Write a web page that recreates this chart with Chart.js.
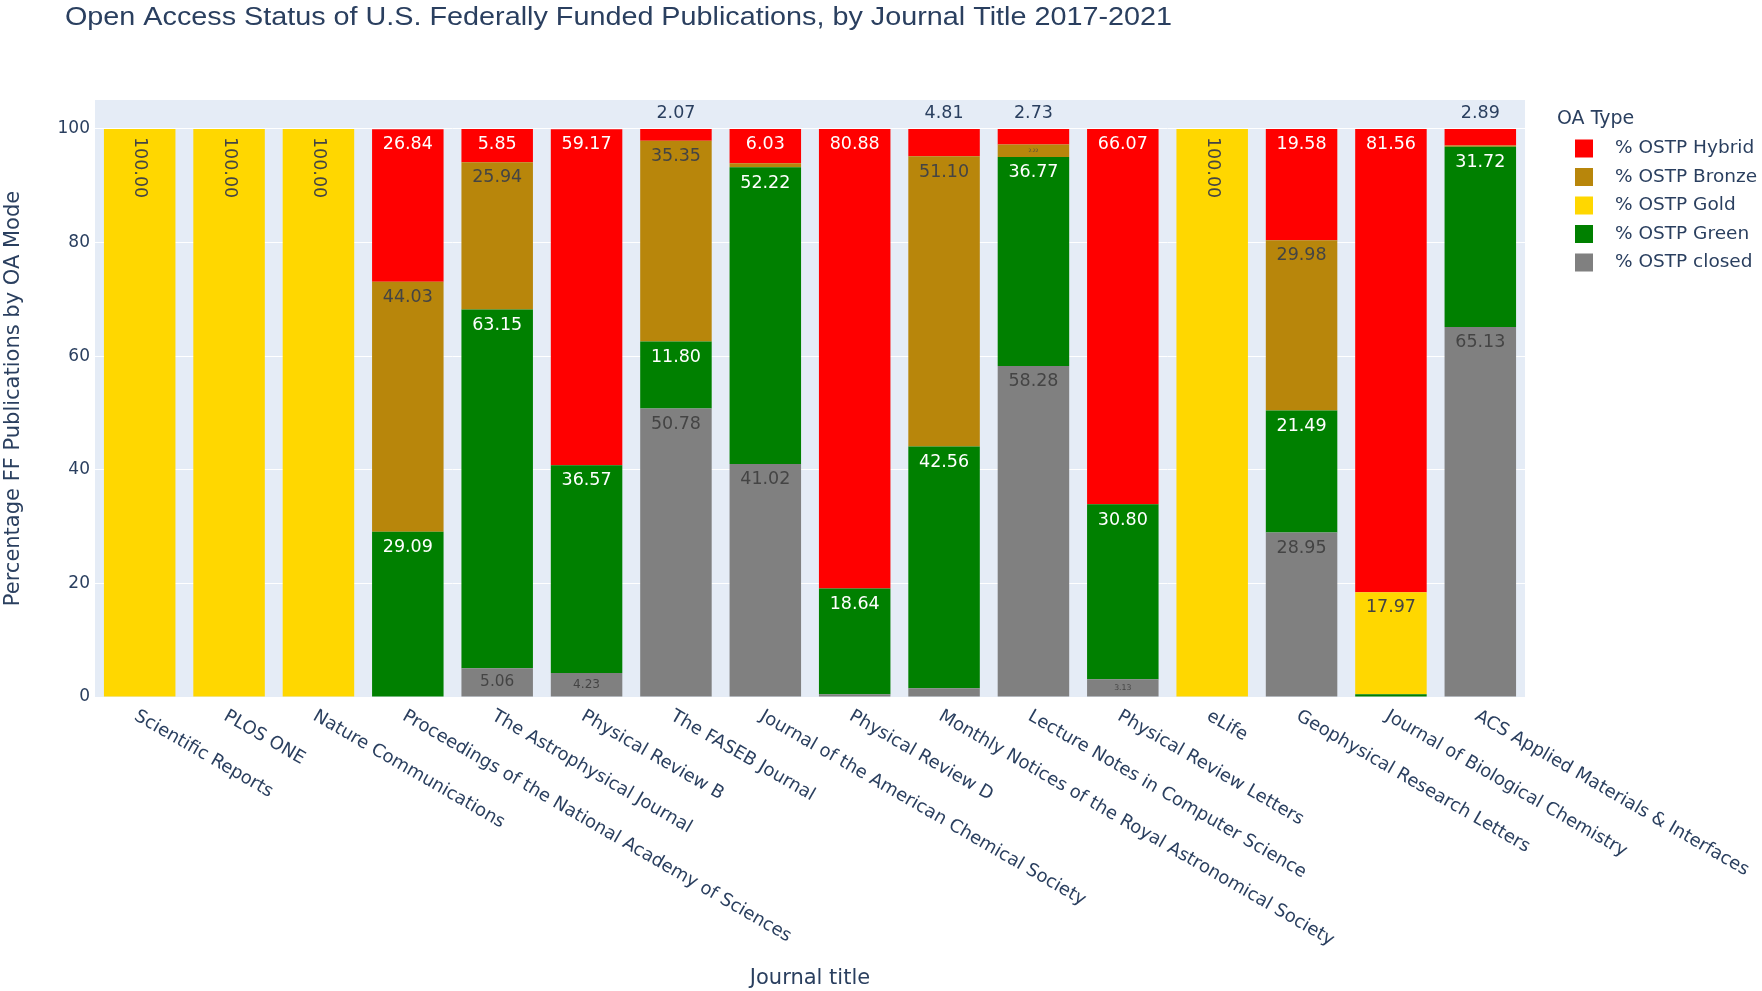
<!DOCTYPE html>
<html>
<head>
    <title>Open Access Status by Journal Title</title>
    <script src="https://cdn.jsdelivr.net/npm/chart.js"></script>
    <style>
        html, body { margin: 0; padding: 0; background: #fff; }
    </style>
</head>
<body>
    <canvas id="oaChart" width="1762" height="991"></canvas>

    <script>
        // journals, left to right
        var journals = ['Scientific Reports', 'PLOS ONE', 'Nature Communications',
            'Proceedings of the National Academy of Sciences', 'The Astrophysical Journal',
            'Physical Review B', 'The FASEB Journal', 'Journal of the American Chemical Society',
            'Physical Review D', 'Monthly Notices of the Royal Astronomical Society',
            'Lecture Notes in Computer Science', 'Physical Review Letters', 'eLife',
            'Geophysical Research Letters', 'Journal of Biological Chemistry',
            'ACS Applied Materials & Interfaces'];

        // percentages per OA mode (stacked bottom to top)
        var closedPct = [0, 0, 0, 0, 5.06, 4.23, 50.78, 41.02, 0.48, 1.53, 58.28, 3.13, 0, 28.95, 0, 65.13];
        var greenPct  = [0, 0, 0, 29.09, 63.15, 36.57, 11.80, 52.22, 18.64, 42.56, 36.77, 30.80, 0, 21.49, 0.47, 31.72];
        var goldPct   = [100, 100, 100, 0, 0, 0, 0, 0, 0, 0, 0, 0, 100, 0, 17.97, 0];
        var bronzePct = [0, 0, 0, 44.03, 25.94, 0, 35.35, 0.73, 0, 51.10, 2.22, 0, 0, 29.98, 0, 0.26];
        var hybridPct = [0, 0, 0, 26.84, 5.85, 59.17, 2.07, 6.03, 80.88, 4.81, 2.73, 66.07, 0, 19.58, 81.56, 2.89];

        var yTicks = [0, 20, 40, 60, 80, 100];

        var textColor = '#2a3f5f';
        var fontFam = 'DejaVu Sans';
        Chart.defaults.font.family = fontFam;

        function isDark(hex) {
            var r = parseInt(hex.substr(1, 2), 16), g = parseInt(hex.substr(3, 2), 16), b = parseInt(hex.substr(5, 2), 16);
            return (r * 299 + g * 587 + b * 114) / 1000 < 128;
        }

        var plotBg = {
            id: 'plotBg',
            beforeDraw: function (chart) {
                var a = chart.chartArea, ctx = chart.ctx;
                ctx.save();
                ctx.fillStyle = '#E5ECF6';
                ctx.fillRect(a.left, a.top, a.right - a.left, a.bottom - a.top);
                ctx.restore();
            }
        };

        // value labels, plotly "auto" style
        var barLabels = {
            id: 'barLabels',
            afterDatasetsDraw: function (chart) {
                var ctx = chart.ctx;
                var sets = chart.data.datasets;
                var fs = 17.5;
                ctx.save();
                for (var di = 0; di < sets.length; di++) {
                    var meta = chart.getDatasetMeta(di);
                    meta.data.forEach(function (bar, i) {
                        var v = sets[di].data[i];
                        if (!v) return;
                        var topIdx = -1;
                        for (var k = 0; k < sets.length; k++) if (sets[k].data[i]) topIdx = k;
                        var p = bar.getProps(['x', 'y', 'base', 'width'], true);
                        var top = Math.min(p.y, p.base), h = Math.abs(p.base - p.y);
                        var txt = v.toFixed(2);
                        ctx.font = fs + 'px ' + fontFam;
                        var tw = ctx.measureText(txt).width;
                        var th = fs * 1.45;
                        var wAv = p.width * 0.8, hAv = h - 6;
                        var inCol = isDark(sets[di].backgroundColor) ? '#ffffff' : '#444444';
                        ctx.textAlign = 'center';
                        ctx.textBaseline = 'middle';
                        if (tw <= wAv && th <= hAv) {
                            ctx.fillStyle = inCol;
                            ctx.fillText(txt, p.x, top + 3 + th / 2);
                        } else if (di === topIdx && tw <= wAv) {
                            ctx.fillStyle = textColor;
                            ctx.fillText(txt, p.x, top - 3 - th / 2);
                        } else if (tw <= hAv && th <= p.width - 6) {
                            ctx.fillStyle = inCol;
                            ctx.save();
                            ctx.translate(p.x, top + 8);
                            ctx.rotate(Math.PI / 2);
                            ctx.textAlign = 'left';
                            ctx.fillText(txt, 0, 0);
                            ctx.restore();
                        } else {
                            var sc = Math.min(wAv / tw, hAv / th);
                            if (sc < 0.15) return;
                            ctx.fillStyle = inCol;
                            ctx.font = (fs * sc) + 'px ' + fontFam;
                            ctx.fillText(txt, p.x, top + 3 + th * sc / 2);
                        }
                    });
                }
                ctx.restore();
            }
        };

        // title, rotated category labels, legend
        var extras = {
            id: 'extras',
            afterDraw: function (chart) {
                var ctx = chart.ctx;
                ctx.save();
                // title
                ctx.fillStyle = textColor;
                ctx.font = '26px "Liberation Sans"';
                ctx.textAlign = 'left';
                ctx.textBaseline = 'alphabetic';
                var title = 'Open Access Status of U.S. Federally Funded Publications, by Journal Title 2017-2021';
                var tw = ctx.measureText(title).width;
                ctx.save();
                ctx.translate(65, 25);
                ctx.scale(1107 / tw, 1);
                ctx.fillText(title, 0, 0);
                ctx.restore();

                // category labels at 30 degrees
                var xs = chart.scales.x;
                ctx.font = '18px ' + fontFam;
                ctx.textBaseline = 'middle';
                journals.forEach(function (name, i) {
                    var x = xs.getPixelForValue(i);
                    ctx.save();
                    ctx.translate(x - 4, xs.top + 18);
                    ctx.rotate(Math.PI / 6);
                    ctx.fillText(name, 0, 0);
                    ctx.restore();
                });

                // legend
                ctx.font = '19px ' + fontFam;
                ctx.fillText('OA Type', 1557, 119);
                ctx.font = '18.5px ' + fontFam;
                var items = chart.data.datasets.slice().reverse();
                items.forEach(function (ds, k) {
                    var y = 148.5 + k * 28.5;
                    ctx.fillStyle = ds.backgroundColor;
                    ctx.fillRect(1575, y - 9, 18, 18);
                    ctx.fillStyle = textColor;
                    ctx.fillText(ds.label, 1615, y);
                });
                ctx.restore();
            }
        };

        var ctx = document.getElementById('oaChart').getContext('2d');
        var chart = new Chart(ctx, {
            type: 'bar',
            data: {
                labels: journals,
                datasets: [
                    { label: '% OSTP closed', data: closedPct, backgroundColor: '#808080' },
                    { label: '% OSTP Green', data: greenPct, backgroundColor: '#008000' },
                    { label: '% OSTP Gold', data: goldPct, backgroundColor: '#FFD700' },
                    { label: '% OSTP Bronze', data: bronzePct, backgroundColor: '#B8860B' },
                    { label: '% OSTP Hybrid', data: hybridPct, backgroundColor: '#FF0000' }
                ]
            },
            options: {
                responsive: false,
                animation: false,
                devicePixelRatio: 1,
                layout: { padding: { left: 0, right: 237, top: 100, bottom: 0 } },
                datasets: { bar: { categoryPercentage: 1, barPercentage: 0.8, borderWidth: 0 } },
                plugins: { legend: { display: false }, tooltip: { enabled: false } },
                scales: {
                    x: {
                        stacked: true,
                        grid: { display: false },
                        border: { display: false },
                        ticks: { display: false },
                        title: { display: true, text: 'Journal title', color: textColor, font: { size: 21 }, padding: 0 },
                        afterFit: function (s) { s.height = 294; }
                    },
                    y: {
                        stacked: true,
                        min: 0,
                        max: 105.1,
                        border: { display: false },
                        grid: { color: '#ffffff', lineWidth: 1, drawTicks: false },
                        ticks: { padding: 5, color: textColor, font: { size: 17 } },
                        afterBuildTicks: function (s) { s.ticks = yTicks.map(function (v) { return { value: v }; }); },
                        title: { display: true, text: 'Percentage FF Publications by OA Mode', color: textColor, font: { size: 21 }, padding: { top: 1, bottom: 0 } },
                        afterFit: function (s) { s.width = 95; }
                    }
                }
            },
            plugins: [plotBg, barLabels, extras]
        });
    </script>
</body>
</html>
